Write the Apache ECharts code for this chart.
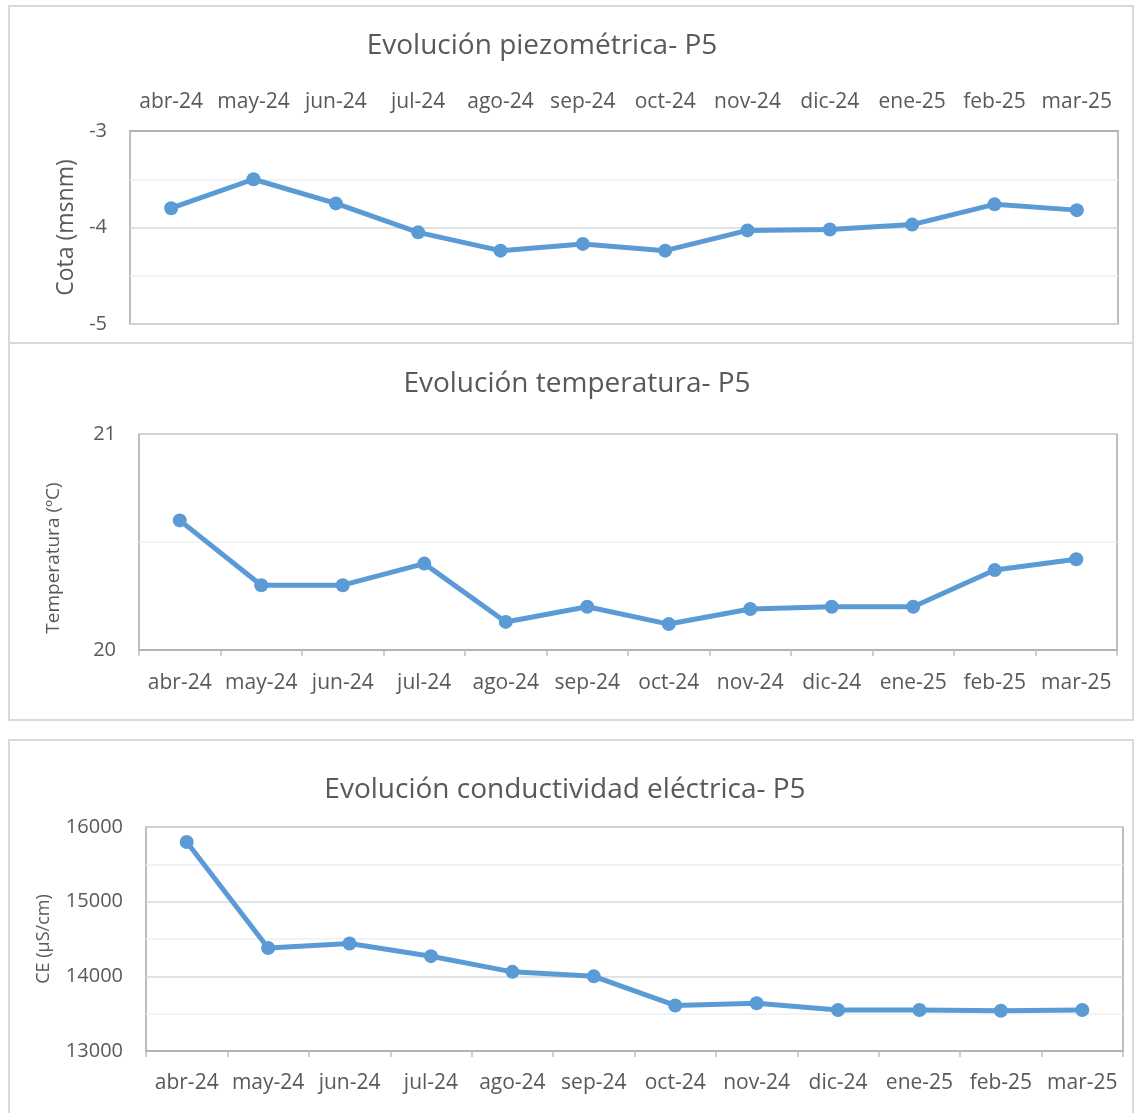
<!DOCTYPE html>
<html>
<head>
<meta charset="utf-8">
<title>Evolución P5</title>
<script src="https://cdn.jsdelivr.net/npm/echarts@6/dist/echarts.min.js"></script>
<style>
  html, body { margin: 0; padding: 0; background: #ffffff; }
  #chart { width: 1135px; height: 1113px; }
</style>
</head>
<body>
<div id="chart"></div>
<script>
// Months of the monitoring campaign
const months = ['abr-24', 'may-24', 'jun-24', 'jul-24', 'ago-24', 'sep-24',
                'oct-24', 'nov-24', 'dic-24', 'ene-25', 'feb-25', 'mar-25'];

// Piezometric level (m s.n.m.)
const cota = [-3.80, -3.50, -3.75, -4.05, -4.24, -4.17, -4.24, -4.03, -4.02, -3.97, -3.76, -3.82];

// Water temperature (ºC)
const temperatura = [20.60, 20.30, 20.30, 20.40, 20.13, 20.20, 20.12, 20.19, 20.20, 20.20, 20.37, 20.42];

// Electrical conductivity (µS/cm)
const conductividad = [15800, 14380, 14440, 14270, 14060, 14000, 13610, 13640, 13550, 13550, 13540, 13550];

// Axis ranges
const cotaAxis = { min: -5, max: -3, interval: 1 };
const tempAxis = { min: 20, max: 21, interval: 1 };
const ceAxis = { min: 13000, max: 16000, interval: 1000 };

const FONT = '"Open Sans", "Noto Sans", sans-serif';
const TEXT = '#595959';
const BLUE = '#5b9bd5';
const FRAME = '#d9d9d9';
const PLOT_BORDER = '#a9a9a9';

const chart = echarts.init(document.getElementById('chart'), null, { renderer: 'canvas' });

function valueAxis(idx, range, name, nameSize, nameGap, namePadding) {
  return {
    type: 'value',
    gridIndex: idx,
    min: range.min,
    max: range.max,
    interval: range.interval,
    name: name,
    nameLocation: 'middle',
    nameGap: nameGap,
    nameTextStyle: { color: TEXT, fontFamily: FONT, fontSize: nameSize, padding: namePadding },
    axisLine: { show: false },
    axisTick: { show: false },
    axisLabel: {
      color: TEXT, fontFamily: FONT, fontSize: 20, margin: 23,
      formatter: function (v) { return String(v); }
    },
    splitLine: { show: true, lineStyle: { color: '#d9d9d9', width: 1.5 } },
    minorTick: { show: false, splitNumber: 2 },
    minorSplitLine: { show: true, lineStyle: { color: '#f0f0f0', width: 1.5 } }
  };
}

function categoryAxis(idx, position, showTicks, margin) {
  return {
    type: 'category',
    gridIndex: idx,
    data: months,
    position: position,
    boundaryGap: true,
    axisLine: { show: true, lineStyle: { color: PLOT_BORDER, width: 1.5 } },
    axisTick: { show: showTicks, length: 6, lineStyle: { color: '#bfbfbf', width: 1.5 } },
    axisLabel: { color: TEXT, fontFamily: FONT, fontSize: 21, margin: margin, interval: 0 },
    splitLine: { show: false }
  };
}

function lineSeries(idx, data) {
  return {
    type: 'line',
    xAxisIndex: idx,
    yAxisIndex: idx,
    data: data,
    symbol: 'circle',
    symbolSize: 14,
    lineStyle: { color: BLUE, width: 5 },
    itemStyle: { color: BLUE },
    animation: false
  };
}

const gridBase = { show: true, borderColor: PLOT_BORDER, borderWidth: 1.5, backgroundColor: 'transparent' };
const titleStyle = { color: TEXT, fontFamily: FONT, fontSize: 28, fontWeight: 'normal' };

const option = {
  backgroundColor: '#ffffff',
  animation: false,
  textStyle: { fontFamily: FONT },
  title: [
    { text: 'Evolución piezométrica- P5', left: 537, top: 27, textAlign: 'center', textStyle: titleStyle },
    { text: 'Evolución temperatura- P5', left: 572, top: 365, textAlign: 'center', textStyle: titleStyle },
    { text: 'Evolución conductividad eléctrica- P5', left: 560, top: 771, textAlign: 'center', textStyle: titleStyle }
  ],
  grid: [
    Object.assign({ left: 130, top: 131, width: 988, height: 193 }, gridBase),
    Object.assign({ left: 139, top: 434, width: 978, height: 216 }, gridBase),
    Object.assign({ left: 146, top: 827, width: 977, height: 224 }, gridBase)
  ],
  xAxis: [
    categoryAxis(0, 'top', false, 18),
    categoryAxis(1, 'bottom', true, 23),
    categoryAxis(2, 'bottom', true, 22)
  ],
  yAxis: [
    valueAxis(0, cotaAxis, 'Cota (msnm)', 23, 52, 0),
    valueAxis(1, tempAxis, 'Temperatura (ºC)', 19, 76, [0, 32, 0, 0]),
    valueAxis(2, ceAxis, 'CE (µS/cm)', 18, 93, 0)
  ],
  series: [
    lineSeries(0, cota),
    lineSeries(1, temperatura),
    lineSeries(2, conductividad)
  ],
  graphic: [
    // Outer frames of the three chart panels
    { type: 'rect', silent: true, z: -10,
      shape: { x: 9, y: 6, width: 1124, height: 337 },
      style: { fill: null, stroke: FRAME, lineWidth: 2 } },
    { type: 'rect', silent: true, z: -10,
      shape: { x: 9, y: 343, width: 1124, height: 377 },
      style: { fill: null, stroke: FRAME, lineWidth: 2 } },
    { type: 'rect', silent: true, z: -10,
      shape: { x: 9, y: 740, width: 1124, height: 380 },
      style: { fill: null, stroke: FRAME, lineWidth: 2 } }
  ]
};

chart.setOption(option);
</script>
</body>
</html>
